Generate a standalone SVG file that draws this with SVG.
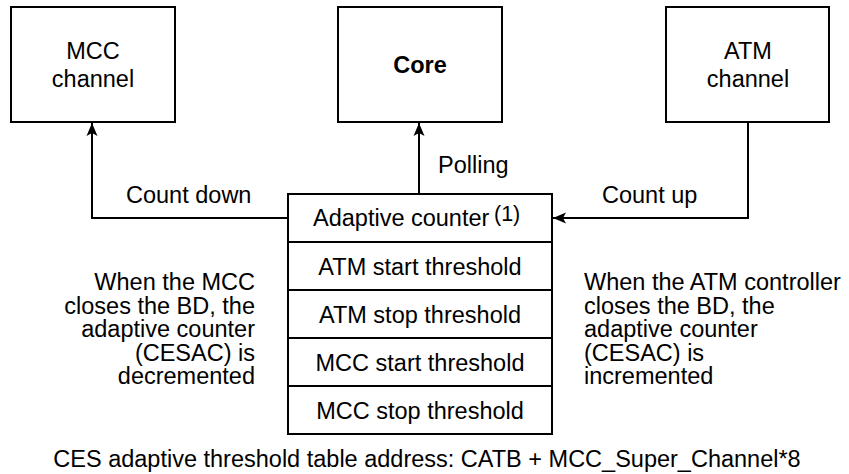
<svg xmlns="http://www.w3.org/2000/svg" width="849" height="474" viewBox="0 0 849 474">
<style>
  .box { fill: #fff; stroke: #000; stroke-width: 2; }
  .ln { fill: none; stroke: #000; stroke-width: 2; }
  text { font-family: "Liberation Sans", Arial, Helvetica, sans-serif; font-size: 23.5px; fill: #000; }
  .c { text-anchor: middle; }
  .e { text-anchor: end; }
  .b { font-weight: bold; }
</style>
<defs>
  <marker id="arr" markerUnits="userSpaceOnUse" markerWidth="16" markerHeight="12" refX="14" refY="6" orient="auto">
    <path d="M14,6 L1,0.5 L4,6 L1,11.5 Z" fill="#000"/>
  </marker>
</defs>
<rect width="849" height="474" fill="#fff"/>
<g id="connectors">
  <path class="ln" d="M288,218 H92 V123" marker-end="url(#arr)"/>
  <path class="ln" d="M419,194 V123" marker-end="url(#arr)"/>
  <path class="ln" d="M748,122 V218 H553" marker-end="url(#arr)"/>
  <text x="126" y="203">Count down</text>
  <text x="438" y="173">Polling</text>
  <text x="602" y="203">Count up</text>
</g>
<g id="mcc">
  <rect class="box" x="11" y="7" width="164" height="115"/>
  <text class="c" x="93" y="59">MCC</text>
  <text class="c" x="93" y="87">channel</text>
</g>
<g id="core">
  <rect class="box" x="338" y="7" width="164" height="115"/>
  <text class="c b" x="420" y="73">Core</text>
</g>
<g id="atm">
  <rect class="box" x="666" y="7" width="163" height="115"/>
  <text class="c" x="748" y="59">ATM</text>
  <text class="c" x="748" y="87">channel</text>
</g>
<g id="table">
  <rect class="box" x="288" y="194" width="264" height="240"/>
  <path class="ln" d="M288,242 H552 M288,290 H552 M288,338 H552 M288,386 H552"/>
  <text x="313" y="226">Adaptive counter</text>
  <text x="494" y="221" style="font-size:21.5px">(1)</text>
  <text class="c" x="420" y="275">ATM start threshold</text>
  <text class="c" x="420" y="323">ATM stop threshold</text>
  <text class="c" x="420" y="371">MCC start threshold</text>
  <text class="c" x="420" y="419">MCC stop threshold</text>
</g>
<g id="left-note">
  <text class="e" x="255" y="290">When the MCC</text>
  <text class="e" x="255" y="313.5">closes the BD, the</text>
  <text class="e" x="255" y="337">adaptive counter</text>
  <text class="e" x="255" y="360.5">(CESAC) is</text>
  <text class="e" x="255" y="384">decremented</text>
</g>
<g id="right-note">
  <text x="584" y="290">When the ATM controller</text>
  <text x="584" y="313.5">closes the BD, the</text>
  <text x="584" y="337">adaptive counter</text>
  <text x="584" y="360.5">(CESAC) is</text>
  <text x="584" y="384">incremented</text>
</g>
<g id="caption">
  <text class="c" x="427" y="467">CES adaptive threshold table address: CATB + MCC_Super_Channel*8</text>
</g>
</svg>
